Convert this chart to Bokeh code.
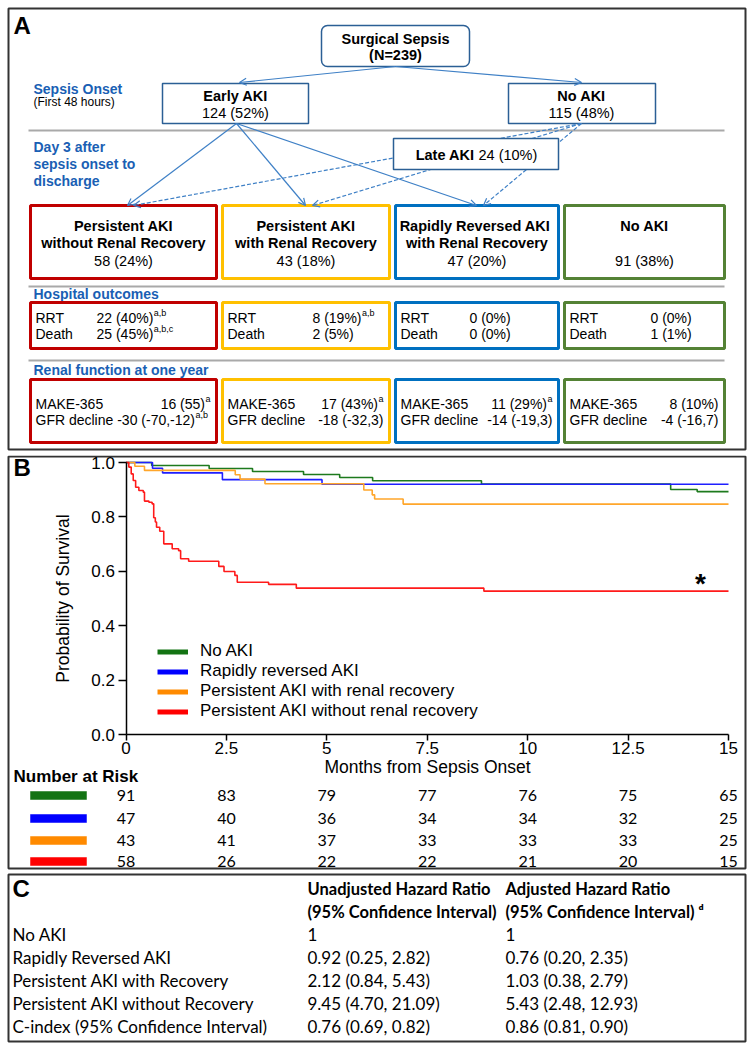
from bokeh.plotting import figure
from bokeh.models import (Range1d, Arrow, OpenHead, Legend, LegendItem, FixedTicker,
                          LinearAxis, CustomJSTickFormatter)
from bokeh.layouts import column
from bokeh.embed import file_html
from bokeh.resources import INLINE
from bokeh.core.properties import value

# ======================= DATA =======================
total_sepsis = 239
early_aki = "124 (52%)"
onset_no_aki = "115 (48%)"
late_aki = "24 (10%)"

group_line1 = ["Persistent AKI", "Persistent AKI", "Rapidly Reversed  AKI", "No AKI"]
group_line2 = ["without Renal Recovery", "with Renal Recovery", "with Renal Recovery", ""]
group_count = ["58 (24%)", "43 (18%)", "47 (20%)", "91 (38%)"]

rrt_text = ["22 (40%)", "8 (19%)", "0 (0%)", "0 (0%)"]
rrt_sup = ["a,b", "a,b", "", ""]
death_text = ["25 (45%)", "2 (5%)", "0 (0%)", "1 (1%)"]
death_sup = ["a,b,c", "", "", ""]
make_text = ["16 (55)", "17 (43%)", "11 (29%)", "8 (10%)"]
make_sup = ["a", "a", "a", ""]
gfr_text = ["-30 (-70,-12)", "-18 (-32,3)", "-14 (-19,3)", "-4 (-16,7)"]
gfr_sup = ["a,b", "", "", ""]

# Kaplan-Meier curves (months, survival)
km_noaki_t = [0, 0.64, 2.07, 3.15, 4.42, 5.32, 6.14, 8.85, 13.56, 14.22, 15]
km_noaki_s = [1.0, 0.989, 0.978, 0.967, 0.956, 0.945, 0.933, 0.921, 0.901, 0.893, 0.893]
km_rapid_t = [0, 0.66, 0.91, 2.4, 4.88, 15]
km_rapid_s = [1.0, 0.979, 0.962, 0.937, 0.920, 0.920]
km_prec_t = [0, 0.22, 0.46, 2.72, 2.84, 3.46, 5.92, 6.13, 6.19, 6.9, 15]
km_prec_s = [1.0, 0.986, 0.971, 0.955, 0.939, 0.922, 0.899, 0.881, 0.866, 0.847, 0.847]
km_pnorec_t = [0, 0.07, 0.13, 0.18, 0.24, 0.32, 0.43, 0.46, 0.57, 0.65, 0.69, 0.73, 0.76,
               0.84, 0.94, 1.15, 1.31, 1.36, 1.56, 2.31, 2.44, 2.71, 2.77, 3.55, 4.24, 8.91, 15]
km_pnorec_s = [1.0, 0.983, 0.958, 0.934, 0.909, 0.897, 0.891, 0.858, 0.854, 0.848, 0.797, 0.781,
               0.762, 0.747, 0.701, 0.683, 0.676, 0.646, 0.637, 0.618, 0.599, 0.585, 0.560,
               0.552, 0.538, 0.527, 0.527]

legend_labels = ["No AKI", "Rapidly reversed AKI", "Persistent AKI with renal recovery",
                 "Persistent AKI without renal recovery"]

risk_times = [0, 2.5, 5, 7.5, 10, 12.5, 15]
risk_noaki = [91, 83, 79, 77, 76, 75, 65]
risk_rapid = [47, 40, 36, 34, 34, 32, 25]
risk_prec = [43, 41, 37, 33, 33, 33, 25]
risk_pnorec = [58, 26, 22, 22, 21, 20, 15]

y_ticks = [0.0, 0.2, 0.4, 0.6, 0.8, 1.0]

hr_labels = ["No AKI", "Rapidly Reversed AKI", "Persistent AKI with Recovery",
             "Persistent AKI without Recovery", "C-index (95% Confidence Interval)"]
hr_unadj = ["1", "0.92 (0.25, 2.82)", "2.12 (0.84, 5.43)", "9.45 (4.70, 21.09)", "0.76 (0.69, 0.82)"]
hr_adj = ["1", "0.76 (0.20, 2.35)", "1.03 (0.38, 2.79)", "5.43 (2.48, 12.93)", "0.86 (0.81, 0.90)"]

# ======================= STYLE / LAYOUT =======================
SANS = "Liberation Sans"
LATO = "Lato"
BLUE_TXT = "#1a5fb4"
BOX_BLUE = "#2b5f95"
ARROW_BLUE = "#3f80c6"
FRAME = "#333333"
KM_COLORS = ["#1d7a1d", "#1f1fff", "#ffa62b", "#ff1a1a"]
KEY_COLORS = ["#137313", "#0000ff", "#ff8a00", "#ff0000"]
GROUP_COLORS = ["#c00000", "#ffc000", "#0070c0", "#548235"]

W = 753
PAGE_L, PAGE_R = 0, 753

AW = {' ': 278, '(': 333, ')': 333, '%': 889, ',': 278, '-': 333, '.': 278, '=': 584,
      'A': 667, 'B': 667, 'C': 722, 'D': 722, 'E': 667, 'F': 611, 'G': 778, 'H': 722, 'I': 278,
      'K': 667, 'L': 556, 'M': 833, 'N': 722, 'O': 778, 'P': 667, 'R': 722, 'S': 667, 'T': 611,
      'a': 556, 'b': 556, 'c': 500, 'd': 556, 'e': 556, 'f': 278, 'g': 556, 'h': 556, 'i': 222,
      'k': 500, 'l': 222, 'm': 833, 'n': 556, 'o': 556, 'p': 556, 'r': 333, 's': 500, 't': 278,
      'u': 556, 'v': 500, 'w': 722, 'y': 500}


def tw(s, size):
    return sum(AW.get(c, 556) for c in s) * size / 1000.0


def add_text(p, xs, ys, texts, size, bold=False, color="black", align="left", font=SANS,
             baseline="middle", level=None):
    r = p.text(x=xs, y=ys, text=texts, text_font=value(font), text_font_size=f"{size}px",
               text_font_style="bold" if bold else "normal", text_color=color,
               text_align=align, text_baseline=baseline)
    if level:
        r.level = level
    return r


def base_fig(height, xr, yr):
    p = figure(width=W, height=height, x_range=xr, y_range=yr, toolbar_location=None,
               output_backend="svg", x_axis_type=None, y_axis_type=None, min_border=0,
               title=None)
    p.outline_line_color = None
    p.background_fill_color = "white"
    p.border_fill_color = "white"
    return p


# ======================= PANEL A =======================
A_TOP, A_BOT = 0, 455
pA = base_fig(A_BOT - A_TOP, Range1d(PAGE_L, PAGE_R), Range1d(A_BOT, A_TOP))
pA.quad(left=[8], right=[745], top=[8], bottom=[449], fill_color=None, line_color=FRAME, line_width=2)
add_text(pA, [13], [25], ["A"], 24, bold=True)


def arrow(x0, y0, x1, y1, dash="solid"):
    pA.add_layout(Arrow(x_start=x0, y_start=y0, x_end=x1, y_end=y1, line_color=ARROW_BLUE,
                        line_width=1.2, line_dash=dash,
                        end=OpenHead(size=7, line_color=ARROW_BLUE, line_width=1.2)))


arrow(395, 66, 239, 82)
arrow(395, 66, 581, 82)
for tx in (127, 305, 476):
    arrow(236, 123, tx, 205)
for tx in (133, 312, 483):
    arrow(581, 123, tx, 205, dash="4 2")

pA.quad(left=[321], right=[469], top=[25], bottom=[66], fill_color="white",
        line_color=BOX_BLUE, line_width=1.5, border_radius=6)
pA.quad(left=[162, 508], right=[308, 655], top=[83, 83], bottom=[123, 123], fill_color="white",
        line_color=BOX_BLUE, line_width=1.5)
add_text(pA, [395, 395], [38, 54], ["Surgical Sepsis", f"(N={total_sepsis})"], 14.5, bold=True, align="center")
add_text(pA, [235, 581], [95, 95], ["Early AKI", "No AKI"], 14.5, bold=True, align="center")
add_text(pA, [235, 581], [112, 112], [early_aki, onset_no_aki], 14.5, align="center")

late = pA.quad(left=[393], right=[558], top=[138], bottom=[169], fill_color="white",
               line_color=BOX_BLUE, line_width=1.5)
late.level = "overlay"
add_text(pA, [474], [154], ["Late AKI"], 14.5, bold=True, align="right", level="overlay")
add_text(pA, [478], [154], [late_aki], 14.5, align="left", level="overlay")

add_text(pA, [33], [88], ["Sepsis Onset"], 14, bold=True, color=BLUE_TXT)
add_text(pA, [33], [101], ["(First 48 hours)"], 12)
add_text(pA, [33, 33, 33], [146, 163, 180], ["Day 3 after", "sepsis onset to", "discharge"], 14,
         bold=True, color=BLUE_TXT)
add_text(pA, [33], [293], ["Hospital outcomes"], 14, bold=True, color=BLUE_TXT)
add_text(pA, [33], [369], ["Renal function at one year"], 14, bold=True, color=BLUE_TXT)
pA.segment(x0=[28, 28, 28], y0=[130, 286, 360], x1=[724, 724, 724], y1=[130, 286, 360],
           line_color="#a9a9a9", line_width=2)

BOX_L = [30, 222, 395, 564]
BOX_R = [216, 389, 558, 724]
OUT_VAL_OFF = [66, 90, 74, 86]
FS = 14
SUP = 9

pA.quad(left=BOX_L, right=BOX_R, top=[205] * 4, bottom=[278] * 4, fill_color="white",
        line_color=GROUP_COLORS, line_width=3)
cx = [(l + r) / 2 for l, r in zip(BOX_L, BOX_R)]
add_text(pA, cx, [225] * 4, group_line1, 14.5, bold=True, align="center")
add_text(pA, cx, [242] * 4, group_line2, 14.5, bold=True, align="center")
add_text(pA, cx, [260] * 4, group_count, 14.5, align="center")

pA.quad(left=BOX_L, right=BOX_R, top=[302] * 4, bottom=[348] * 4, fill_color="white",
        line_color=GROUP_COLORS, line_width=3)
lab_x = [l + 5 for l in BOX_L]
add_text(pA, lab_x, [317] * 4, ["RRT"] * 4, FS)
add_text(pA, lab_x, [333] * 4, ["Death"] * 4, FS)
vx = [l + o for l, o in zip(BOX_L, OUT_VAL_OFF)]
add_text(pA, vx, [317] * 4, rrt_text, FS)
add_text(pA, vx, [333] * 4, death_text, FS)
add_text(pA, [x + tw(t, FS) + 0.5 for x, t in zip(vx, rrt_text)], [312] * 4, rrt_sup, SUP)
add_text(pA, [x + tw(t, FS) + 0.5 for x, t in zip(vx, death_text)], [328] * 4, death_sup, SUP)

pA.quad(left=BOX_L, right=BOX_R, top=[379] * 4, bottom=[442] * 4, fill_color="white",
        line_color=GROUP_COLORS, line_width=3)
add_text(pA, lab_x, [403] * 4, ["MAKE-365"] * 4, FS)
add_text(pA, lab_x, [419] * 4, ["GFR decline"] * 4, FS)
mk_end = [r - 6 - tw(s, SUP) - (0.5 if s else 0) for r, s in zip(BOX_R, make_sup)]
add_text(pA, mk_end, [403] * 4, make_text, FS, align="right")
add_text(pA, [e + 0.5 for e in mk_end], [398] * 4, make_sup, SUP)
gf_end = [r - 6 - tw(s, SUP) - (0.5 if s else 0) for r, s in zip(BOX_R, gfr_sup)]
gf_end[0] = lab_x[0] + tw("GFR decline ", FS) + tw(gfr_text[0], FS)
add_text(pA, gf_end, [419] * 4, gfr_text, FS, align="right")
add_text(pA, [e + 0.5 for e in gf_end], [414] * 4, gfr_sup, SUP)

# ======================= PANEL B =======================
B_TOP, B_BOT = 455, 871
X0, X15 = 125.5, 728.0          # pixel positions of month 0 and 15
Y0, Y1 = 734.0, 462.0           # pixel positions of survival 0 and 1
PXM = (X15 - X0) / 15.0
PYU = Y0 - Y1


def bx(px):
    return (px - X0) / PXM


def by(py):
    return (Y0 - py) / PYU


pB = base_fig(B_BOT - B_TOP, Range1d(bx(PAGE_L), bx(PAGE_R)), Range1d(by(B_BOT), by(B_TOP)))
pB.quad(left=[bx(8)], right=[bx(745)], top=[by(456)], bottom=[by(868)], fill_color=None,
        line_color=FRAME, line_width=2)

xax = LinearAxis(fixed_location=0, bounds=(0, 15), ticker=FixedTicker(ticks=risk_times),
                 formatter=CustomJSTickFormatter(code="return tick.toString()"),
                 axis_label="Months from Sepsis Onset")
yax = LinearAxis(fixed_location=0, bounds=(0, 1), ticker=FixedTicker(ticks=y_ticks),
                 formatter=CustomJSTickFormatter(code="return tick.toFixed(1)"),
                 axis_label="Probability of Survival")
for ax in (xax, yax):
    ax.axis_line_width = 1.5
    ax.axis_line_color = "black"
    ax.major_tick_line_width = 1.5
    ax.major_tick_line_color = "black"
    ax.major_tick_in = 0
    ax.minor_tick_line_color = None
    ax.major_label_text_font = SANS
    ax.major_label_text_font_size = "17px"
    ax.major_label_text_color = "black"
    ax.axis_label_text_font = SANS
    ax.axis_label_text_font_size = "17.5px"
    ax.axis_label_text_font_style = "normal"
    ax.axis_label_text_color = "black"
xax.major_tick_out = 6
xax.major_label_standoff = 1
xax.axis_label_standoff = 0
yax.major_tick_out = 8
yax.major_label_standoff = 3
yax.axis_label_standoff = 16
pB.add_layout(xax, "below")
pB.add_layout(yax, "left")

km_series = [(km_noaki_t, km_noaki_s), (km_rapid_t, km_rapid_s), (km_prec_t, km_prec_s),
             (km_pnorec_t, km_pnorec_s)]
for (t, s), c in zip(km_series, KM_COLORS):
    pB.step(x=t, y=s, mode="after", line_color=c, line_width=1.6)

nan = float("nan")
key_renderers = [pB.line(x=[nan, nan], y=[nan, nan], line_color=c, line_width=5) for c in KEY_COLORS]
legend = Legend(items=[LegendItem(label=l, renderers=[r]) for l, r in zip(legend_labels, key_renderers)],
                location=(157, 150), orientation="vertical", glyph_width=31, glyph_height=19,
                label_height=19, spacing=0, padding=0, margin=0, label_standoff=12,
                border_line_color=None, background_fill_alpha=0,
                label_text_font=SANS, label_text_font_size="17px", label_text_color="black")
pB.add_layout(legend)

add_text(pB, [bx(700)], [by(583)], ["*"], 28, bold=True, align="center")
add_text(pB, [bx(13)], [by(467)], ["B"], 24, bold=True)

add_text(pB, [bx(13)], [by(776)], ["Number at Risk"], 17, bold=True)
RISK_ROWS = [795, 818, 840, 861]
risk_all = [risk_noaki, risk_rapid, risk_prec, risk_pnorec]
for row_y, counts, c in zip(RISK_ROWS, risk_all, KEY_COLORS):
    pB.quad(left=[bx(30)], right=[bx(86)], top=[by(row_y - 4)], bottom=[by(row_y + 4)],
            fill_color=c, line_color=c, line_width=0.5)
    add_text(pB, risk_times, [by(row_y)] * len(risk_times), [str(v) for v in counts], 16,
             align="center", font=LATO)

# ======================= PANEL C =======================
C_TOP, C_BOT = 871, 1048
pC = base_fig(C_BOT - C_TOP, Range1d(PAGE_L, PAGE_R), Range1d(C_BOT, C_TOP))
pC.quad(left=[8], right=[745], top=[874], bottom=[1041], fill_color=None, line_color=FRAME, line_width=2)
add_text(pC, [12], [888], ["C"], 24, bold=True)
COL2, COL3 = 307, 505
add_text(pC, [COL2, COL3], [888, 888], ["Unadjusted Hazard Ratio", "Adjusted Hazard Ratio"], 16.5,
         bold=True, font=LATO)
add_text(pC, [COL2, COL3], [911, 911], ["(95% Confidence Interval)", "(95% Confidence Interval) \u1d48"],
         16.5, bold=True, font=LATO)
ROWS_C = [934, 957, 980, 1003, 1026]
add_text(pC, [12] * 5, ROWS_C, hr_labels, 17, font=LATO)
add_text(pC, [COL2] * 5, ROWS_C, hr_unadj, 17, font=LATO)
add_text(pC, [COL3] * 5, ROWS_C, hr_adj, 17, font=LATO)

layout = column(pA, pB, pC, spacing=0)
open("out.html", "w").write(file_html(layout, INLINE))
